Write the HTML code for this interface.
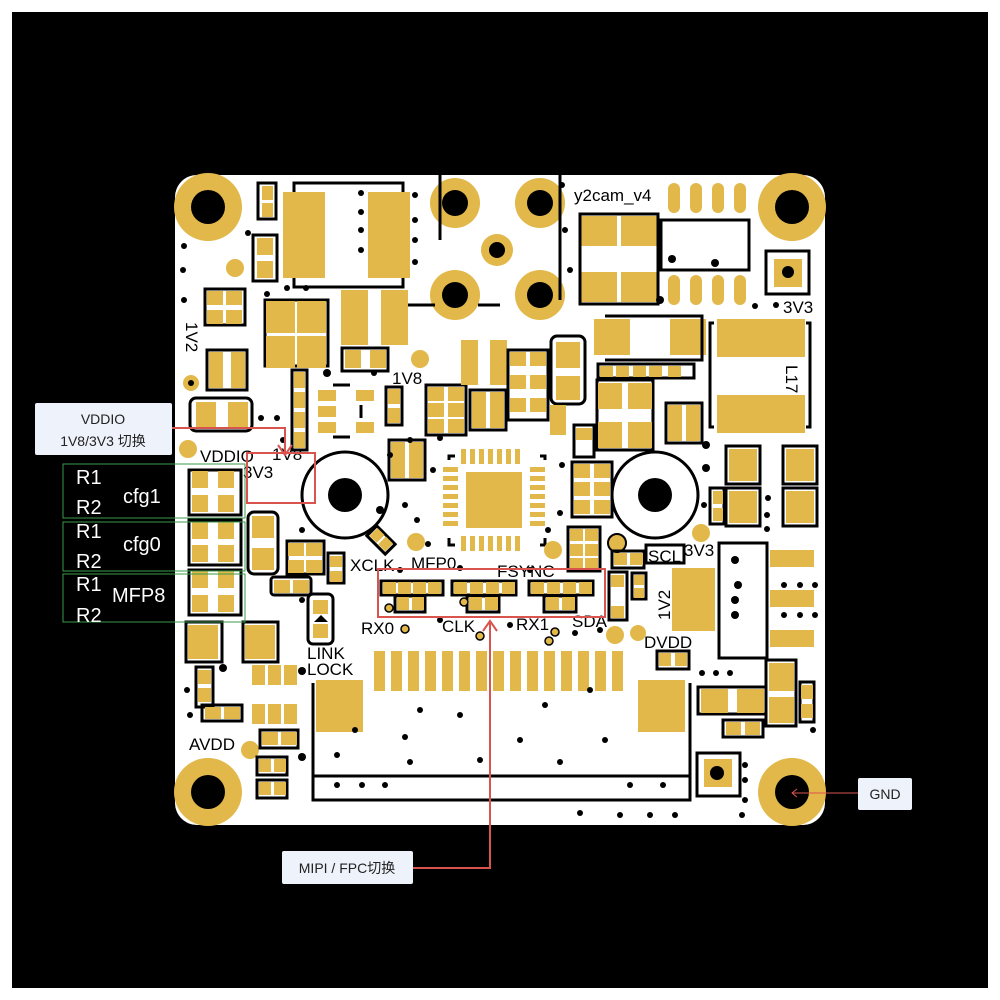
<!DOCTYPE html>
<html><head><meta charset="utf-8"><style>
html,body{margin:0;padding:0;background:#fff}
svg{display:block}
.p{fill:#E2B84A}
.o{fill:none;stroke:#000;stroke-width:3}
.t{font-family:"Liberation Sans",sans-serif;font-size:17px;fill:#000}
.lb{font-family:"Liberation Sans","Noto Sans CJK SC",sans-serif;font-size:14px;fill:#222}
.w{font-family:"Liberation Sans",sans-serif;font-size:20px;fill:#fff}
</style></head><body>
<svg width="1000" height="1000" viewBox="0 0 1000 1000" xmlns="http://www.w3.org/2000/svg">
<rect x="0" y="0" width="1000" height="1000" fill="#fff"/>
<rect x="12" y="12" width="976" height="976" fill="#000"/>
<rect x="175" y="175" width="650" height="650" rx="22" fill="#fff"/>

<!-- mounting holes -->
<g>
<circle cx="208" cy="207" r="34" class="p"/><circle cx="208" cy="207" r="17" fill="#000"/>
<circle cx="792" cy="207" r="34" class="p"/><circle cx="792" cy="207" r="17" fill="#000"/>
<circle cx="208" cy="792" r="34" class="p"/><circle cx="208" cy="792" r="17" fill="#000"/>
<circle cx="792" cy="792" r="34" class="p"/><circle cx="792" cy="792" r="17" fill="#000"/>
</g>
<!-- connector holes -->
<circle cx="455" cy="203" r="25" class="p"/><circle cx="455" cy="203" r="13" fill="#000"/>
<circle cx="540" cy="203" r="25" class="p"/><circle cx="540" cy="203" r="13" fill="#000"/>
<circle cx="497" cy="250" r="16" class="p"/><circle cx="497" cy="250" r="8" fill="#000"/>
<circle cx="455" cy="295" r="25" class="p"/><circle cx="455" cy="295" r="13" fill="#000"/>
<circle cx="540" cy="295" r="25" class="p"/><circle cx="540" cy="295" r="13" fill="#000"/>
<path d="M440 175 V240 M560 175 V300 M478 305 H500 M400 305 H435" class="o"/>

<!-- big white circles -->
<circle cx="345" cy="495" r="43" fill="#fff" stroke="#000" stroke-width="3"/><circle cx="345" cy="495" r="17" fill="#000"/>
<circle cx="655" cy="495" r="43" fill="#fff" stroke="#000" stroke-width="3"/><circle cx="655" cy="495" r="17" fill="#000"/>

<!-- top left inductor -->
<rect x="294" y="183" width="109" height="104" class="o"/>
<rect x="283" y="192" width="42" height="86" class="p"/><rect x="368" y="192" width="42" height="86" class="p"/>
<!-- small left column -->
<rect x="258" y="183" width="18" height="36" class="o"/><rect x="262" y="186" width="11" height="14" class="p"/><rect x="262" y="203" width="11" height="14" class="p"/>
<rect x="253" y="235" width="24" height="46" class="o"/><rect x="257" y="238" width="16" height="17" class="p"/><rect x="257" y="261" width="16" height="17" class="p"/>
<circle cx="235" cy="268" r="9" class="p"/>
<rect x="205" y="289" width="40" height="36" class="o"/><rect x="207" y="291" width="16" height="14" class="p"/><rect x="226" y="291" width="16" height="14" class="p"/><rect x="207" y="310" width="16" height="14" class="p"/><rect x="226" y="310" width="16" height="14" class="p"/>
<rect x="265" y="300" width="63" height="66" class="o"/>
<rect x="266" y="301" width="29" height="32" class="p"/><rect x="297" y="301" width="29" height="32" class="p"/><rect x="266" y="336" width="29" height="32" class="p"/><rect x="297" y="336" width="29" height="32" class="p"/>
<rect x="341" y="290" width="27" height="55" class="p"/><rect x="381" y="290" width="27" height="55" class="p"/>
<rect x="342" y="348" width="46" height="23" class="o"/><rect x="345" y="350" width="16" height="18" class="p"/><rect x="370" y="350" width="16" height="18" class="p"/>
<circle cx="420" cy="359" r="9" class="p"/>
<rect x="207" y="350" width="40" height="40" class="o"/><rect x="209" y="352" width="14" height="36" class="p"/><rect x="231" y="352" width="14" height="36" class="p"/>
<circle cx="191" cy="383" r="8" class="p"/><circle cx="191" cy="383" r="3" fill="#000"/>
<rect x="190" y="398" width="62" height="33" rx="6" class="o"/><rect x="196" y="402" width="20" height="26" class="p"/><rect x="228" y="402" width="20" height="26" class="p"/>
<circle cx="188" cy="449" r="9" class="p"/>
<rect x="292" y="370" width="15" height="80" class="o"/><rect x="294" y="372" width="11" height="16" class="p"/><rect x="294" y="392" width="11" height="16" class="p"/><rect x="294" y="412" width="11" height="16" class="p"/><rect x="294" y="432" width="11" height="16" class="p"/>
<rect x="318" y="390" width="18" height="11" class="p"/><rect x="318" y="406" width="18" height="11" class="p"/><rect x="318" y="422" width="18" height="11" class="p"/>
<rect x="356" y="390" width="18" height="11" class="p"/><rect x="356" y="422" width="18" height="11" class="p"/>
<path d="M333 385 H350 M333 437 H350 M361 405 V418" class="o"/>
<rect x="386" y="387" width="16" height="38" class="o"/><rect x="388" y="389" width="12" height="15" class="p"/><rect x="388" y="408" width="12" height="15" class="p"/>
<rect x="389" y="440" width="36" height="40" class="o"/><rect x="391" y="442" width="14" height="36" class="p"/><rect x="409" y="442" width="14" height="36" class="p"/>
<rect x="426" y="385" width="40" height="50" class="o"/><rect x="428" y="387" width="16" height="14" class="p"/><rect x="448" y="387" width="16" height="14" class="p"/><rect x="428" y="403" width="16" height="14" class="p"/><rect x="448" y="403" width="16" height="14" class="p"/><rect x="428" y="419" width="16" height="14" class="p"/><rect x="448" y="419" width="16" height="14" class="p"/>
<rect x="461" y="340" width="17" height="45" class="p"/><rect x="490" y="340" width="17" height="45" class="p"/>
<rect x="470" y="390" width="36" height="40" class="o"/><rect x="472" y="392" width="14" height="36" class="p"/><rect x="490" y="392" width="14" height="36" class="p"/>
<rect x="508" y="350" width="40" height="70" class="o"/><rect x="510" y="352" width="16" height="14" class="p"/><rect x="530" y="352" width="16" height="14" class="p"/><rect x="510" y="375" width="16" height="14" class="p"/><rect x="530" y="375" width="16" height="14" class="p"/><rect x="510" y="398" width="16" height="14" class="p"/><rect x="530" y="398" width="16" height="14" class="p"/>
<rect x="551" y="336" width="34" height="68" rx="6" class="o"/><rect x="556" y="342" width="24" height="26" class="p"/><rect x="556" y="376" width="24" height="24" class="p"/>
<rect x="550" y="405" width="16" height="30" class="p"/>

<!-- top right -->
<rect x="581" y="216" width="36" height="30" class="p"/><rect x="621" y="216" width="36" height="30" class="p"/>
<rect x="581" y="272" width="36" height="30" class="p"/><rect x="621" y="272" width="36" height="30" class="p"/>
<rect x="580" y="214" width="78" height="90" class="o"/>
<g class="p"><rect x="668" y="183" width="12" height="30" rx="6"/><rect x="690" y="183" width="12" height="30" rx="6"/><rect x="712" y="183" width="12" height="30" rx="6"/><rect x="734" y="183" width="12" height="30" rx="6"/>
<rect x="668" y="275" width="12" height="30" rx="6"/><rect x="690" y="275" width="12" height="30" rx="6"/><rect x="712" y="275" width="12" height="30" rx="6"/><rect x="734" y="275" width="12" height="30" rx="6"/></g>
<rect x="661" y="220" width="88" height="50" class="o"/>
<rect x="766" y="251" width="43" height="43" class="o"/><rect x="774" y="259" width="28" height="28" class="p"/><circle cx="788" cy="272" r="6" fill="#000"/>
<rect x="594" y="319" width="36" height="36" class="p"/><rect x="670" y="319" width="36" height="36" class="p"/>
<path d="M605 316 H702 V360 H605" class="o"/>
<rect x="598" y="364" width="96" height="14" class="o"/>
<rect x="600" y="366" width="13" height="11" class="p"/><rect x="616" y="366" width="13" height="11" class="p"/><rect x="633" y="366" width="13" height="11" class="p"/><rect x="649" y="366" width="13" height="11" class="p"/><rect x="668" y="366" width="13" height="11" class="p"/>
<rect x="597" y="380" width="56" height="70" class="o"/><rect x="598" y="383" width="24" height="26" class="p"/><rect x="628" y="383" width="24" height="26" class="p"/><rect x="598" y="422" width="24" height="26" class="p"/><rect x="628" y="422" width="24" height="26" class="p"/>
<rect x="666" y="403" width="36" height="40" class="o"/><rect x="668" y="405" width="14" height="36" class="p"/><rect x="686" y="405" width="14" height="36" class="p"/>
<path d="M714 323 H710 V427 H714 M806 323 H810 V427 H806" class="o"/>
<rect x="717" y="319" width="88" height="38" class="p"/><rect x="717" y="395" width="88" height="38" class="p"/>
<rect x="574" y="425" width="20" height="32" class="o"/><rect x="576" y="428" width="16" height="12" class="p"/>
<rect x="572" y="462" width="40" height="55" class="o"/><rect x="574" y="464" width="16" height="14" class="p"/><rect x="594" y="464" width="16" height="14" class="p"/><rect x="574" y="482" width="16" height="14" class="p"/><rect x="594" y="482" width="16" height="14" class="p"/><rect x="574" y="500" width="16" height="14" class="p"/><rect x="594" y="500" width="16" height="14" class="p"/>
<rect x="726" y="446" width="34" height="38" class="o"/><rect x="729" y="449" width="28" height="32" class="p"/>
<rect x="783" y="446" width="34" height="38" class="o"/><rect x="786" y="449" width="28" height="32" class="p"/>
<rect x="726" y="488" width="34" height="38" class="o"/><rect x="729" y="491" width="28" height="32" class="p"/>
<rect x="783" y="488" width="34" height="38" class="o"/><rect x="786" y="491" width="28" height="32" class="p"/>
<rect x="710" y="488" width="14" height="36" class="o"/><rect x="713" y="491" width="10" height="13" class="p"/><rect x="713" y="508" width="10" height="13" class="p"/>
<circle cx="701" cy="533" r="9" class="p"/>
<rect x="719" y="543" width="48" height="115" class="o"/>
<rect x="770" y="550" width="44" height="17" class="p"/><rect x="770" y="590" width="44" height="17" class="p"/><rect x="770" y="630" width="44" height="17" class="p"/>

<!-- QFN -->
<rect x="466" y="472" width="56" height="56" class="p"/>
<g class="p">
<rect x="443" y="467" width="15" height="5"/><rect x="443" y="476" width="15" height="5"/><rect x="443" y="485" width="15" height="5"/><rect x="443" y="494" width="15" height="5"/><rect x="443" y="503" width="15" height="5"/><rect x="443" y="512" width="15" height="5"/><rect x="443" y="521" width="15" height="5"/>
<rect x="530" y="467" width="15" height="5"/><rect x="530" y="476" width="15" height="5"/><rect x="530" y="485" width="15" height="5"/><rect x="530" y="494" width="15" height="5"/><rect x="530" y="503" width="15" height="5"/><rect x="530" y="512" width="15" height="5"/><rect x="530" y="521" width="15" height="5"/>
<rect x="461" y="449" width="5" height="15"/><rect x="470" y="449" width="5" height="15"/><rect x="479" y="449" width="5" height="15"/><rect x="488" y="449" width="5" height="15"/><rect x="497" y="449" width="5" height="15"/><rect x="506" y="449" width="5" height="15"/><rect x="515" y="449" width="5" height="15"/>
<rect x="461" y="536" width="5" height="15"/><rect x="470" y="536" width="5" height="15"/><rect x="479" y="536" width="5" height="15"/><rect x="488" y="536" width="5" height="15"/><rect x="497" y="536" width="5" height="15"/><rect x="506" y="536" width="5" height="15"/><rect x="515" y="536" width="5" height="15"/>
</g>
<path d="M449 460 V456 H455 M540 456 H545 V460 M449 538 V545 H455 M540 545 H545 V538" class="o"/>
<circle cx="553" cy="550" r="9" class="p"/>
<rect x="568" y="527" width="32" height="44" class="o"/><rect x="570" y="529" width="13" height="12" class="p"/><rect x="585" y="529" width="13" height="12" class="p"/><rect x="570" y="544" width="13" height="12" class="p"/><rect x="585" y="544" width="13" height="12" class="p"/><rect x="570" y="558" width="13" height="11" class="p"/><rect x="585" y="558" width="13" height="11" class="p"/>
<circle cx="617" cy="543" r="9" class="p" stroke="#000" stroke-width="2"/>
<rect x="612" y="551" width="32" height="17" class="o"/><rect x="614" y="553" width="13" height="12" class="p"/><rect x="630" y="553" width="13" height="12" class="p"/>
<rect x="609" y="572" width="18" height="48" class="o"/><rect x="611" y="575" width="13" height="12" class="p"/><rect x="611" y="606" width="13" height="12" class="p"/>
<rect x="632" y="573" width="14" height="26" class="o"/><rect x="634" y="575" width="10" height="10" class="p"/><rect x="634" y="588" width="10" height="10" class="p"/>
<rect x="672" y="568" width="43" height="63" class="p"/>
<rect x="646" y="545" width="38" height="18" class="o"/>
<circle cx="615" cy="635" r="9" class="p"/><circle cx="638" cy="633" r="8" class="p"/>
<rect x="657" y="651" width="32" height="18" class="o"/><rect x="659" y="653" width="12" height="13" class="p"/><rect x="675" y="653" width="12" height="13" class="p"/>

<!-- left lower -->
<rect x="189" y="470" width="52" height="45" class="o"/><rect x="192" y="471" width="16" height="17" class="p"/><rect x="218" y="471" width="16" height="17" class="p"/><rect x="192" y="495" width="16" height="17" class="p"/><rect x="218" y="495" width="16" height="17" class="p"/>
<rect x="189" y="520" width="52" height="45" class="o"/><rect x="192" y="522" width="16" height="17" class="p"/><rect x="218" y="522" width="16" height="17" class="p"/><rect x="192" y="545" width="16" height="17" class="p"/><rect x="218" y="545" width="16" height="17" class="p"/>
<rect x="189" y="570" width="52" height="45" class="o"/><rect x="192" y="571" width="16" height="17" class="p"/><rect x="218" y="571" width="16" height="17" class="p"/><rect x="192" y="595" width="16" height="17" class="p"/><rect x="218" y="595" width="16" height="17" class="p"/>
<rect x="248" y="512" width="30" height="62" rx="6" class="o"/><rect x="252" y="516" width="22" height="22" class="p"/><rect x="252" y="548" width="22" height="22" class="p"/>
<rect x="287" y="541" width="37" height="33" class="o"/><rect x="288" y="543" width="16" height="13" class="p"/><rect x="306" y="543" width="16" height="13" class="p"/><rect x="288" y="560" width="16" height="13" class="p"/><rect x="306" y="560" width="16" height="13" class="p"/>
<rect x="271" y="577" width="40" height="18" rx="3" class="o"/><rect x="274" y="580" width="16" height="13" class="p"/><rect x="293" y="580" width="16" height="13" class="p"/>
<rect x="328" y="553" width="16" height="30" class="o"/><rect x="330" y="556" width="12" height="11" class="p"/><rect x="330" y="571" width="12" height="11" class="p"/>
<rect x="308" y="594" width="25" height="50" rx="5" class="o"/><rect x="313" y="600" width="15" height="14" class="p"/><rect x="313" y="624" width="15" height="14" class="p"/><path d="M314 622 L321 615 L328 622 Z" fill="#000"/>
<g transform="rotate(45 381 540)"><rect x="368" y="533" width="26" height="14" class="o"/><rect x="370" y="534" width="10" height="11" class="p"/><rect x="382" y="534" width="10" height="11" class="p"/></g>
<circle cx="416" cy="542" r="9" class="p"/>
<rect x="188" y="625" width="30" height="34" class="p"/><rect x="245" y="625" width="30" height="34" class="p"/>
<rect x="186" y="622" width="36" height="40" class="o"/><rect x="243" y="622" width="35" height="40" class="o"/>
<rect x="252" y="665" width="13" height="20" class="p"/><rect x="268" y="665" width="13" height="20" class="p"/><rect x="284" y="665" width="13" height="20" class="p"/>
<rect x="252" y="704" width="13" height="20" class="p"/><rect x="268" y="704" width="13" height="20" class="p"/><rect x="284" y="704" width="13" height="20" class="p"/>
<rect x="196" y="667" width="17" height="40" class="o"/><rect x="198" y="670" width="13" height="14" class="p"/><rect x="198" y="688" width="13" height="14" class="p"/>
<rect x="202" y="705" width="40" height="16" class="o"/><rect x="205" y="707" width="16" height="12" class="p"/><rect x="224" y="707" width="16" height="12" class="p"/>
<circle cx="250" cy="750" r="9" class="p"/>
<rect x="260" y="730" width="38" height="18" class="o"/><rect x="262" y="732" width="16" height="13" class="p"/><rect x="281" y="732" width="16" height="13" class="p"/>
<rect x="257" y="757" width="30" height="18" class="o"/><rect x="259" y="759" width="12" height="13" class="p"/><rect x="274" y="759" width="12" height="13" class="p"/>
<rect x="257" y="780" width="30" height="18" class="o"/><rect x="259" y="782" width="12" height="13" class="p"/><rect x="274" y="782" width="12" height="13" class="p"/>

<!-- MFP switch row -->
<g>
<rect x="381" y="581" width="62" height="14" class="o"/><rect x="383" y="582" width="13" height="12" class="p"/><rect x="398" y="582" width="13" height="12" class="p"/><rect x="413" y="582" width="13" height="12" class="p"/><rect x="428" y="582" width="13" height="12" class="p"/>
<rect x="395" y="596" width="30" height="16" class="o"/><rect x="397" y="597" width="12" height="13" class="p"/><rect x="412" y="597" width="12" height="13" class="p"/>
<rect x="452" y="581" width="64" height="14" class="o"/><rect x="454" y="582" width="13" height="12" class="p"/><rect x="470" y="582" width="13" height="12" class="p"/><rect x="486" y="582" width="13" height="12" class="p"/><rect x="502" y="582" width="13" height="12" class="p"/>
<rect x="467" y="596" width="32" height="16" class="o"/><rect x="469" y="597" width="13" height="13" class="p"/><rect x="485" y="597" width="13" height="13" class="p"/>
<rect x="529" y="581" width="64" height="14" class="o"/><rect x="531" y="582" width="13" height="12" class="p"/><rect x="547" y="582" width="13" height="12" class="p"/><rect x="563" y="582" width="13" height="12" class="p"/><rect x="579" y="582" width="13" height="12" class="p"/>
<rect x="544" y="596" width="32" height="16" class="o"/><rect x="546" y="597" width="13" height="13" class="p"/><rect x="562" y="597" width="13" height="13" class="p"/>
<circle cx="389" cy="608" r="4" class="p" stroke="#000" stroke-width="1.5"/><circle cx="464" cy="602" r="4" class="p" stroke="#000" stroke-width="1.5"/>
<circle cx="405" cy="629" r="4" class="p" stroke="#000" stroke-width="1.5"/><circle cx="480" cy="636" r="4" class="p" stroke="#000" stroke-width="1.5"/>
<circle cx="555" cy="632" r="4" class="p" stroke="#000" stroke-width="1.5"/><circle cx="549" cy="641" r="4" class="p" stroke="#000" stroke-width="1.5"/>
</g>

<!-- FPC -->
<g class="p">
<rect x="374" y="651" width="11" height="40"/><rect x="391" y="651" width="11" height="40"/><rect x="408" y="651" width="11" height="40"/><rect x="425" y="651" width="11" height="40"/><rect x="442" y="651" width="11" height="40"/><rect x="459" y="651" width="11" height="40"/><rect x="476" y="651" width="11" height="40"/><rect x="493" y="651" width="11" height="40"/><rect x="510" y="651" width="11" height="40"/><rect x="527" y="651" width="11" height="40"/><rect x="544" y="651" width="11" height="40"/><rect x="561" y="651" width="11" height="40"/><rect x="578" y="651" width="11" height="40"/><rect x="595" y="651" width="11" height="40"/><rect x="612" y="651" width="11" height="40"/>
<rect x="316" y="680" width="47" height="52"/><rect x="638" y="680" width="47" height="52"/>
</g>
<path d="M313 683 V800 H690 V683 M313 776 H690" class="o"/>
<rect x="697" y="753" width="43" height="43" class="o"/><rect x="704" y="759" width="28" height="28" class="p"/><circle cx="717" cy="773" r="7" fill="#000"/>
<rect x="698" y="687" width="68" height="27" class="o"/><rect x="701" y="689" width="27" height="24" class="p"/><rect x="737" y="689" width="27" height="24" class="p"/>
<rect x="723" y="720" width="40" height="17" class="o"/><rect x="726" y="722" width="15" height="13" class="p"/><rect x="745" y="722" width="15" height="13" class="p"/>
<rect x="766" y="660" width="30" height="66" class="o"/><rect x="769" y="663" width="25" height="28" class="p"/><rect x="769" y="697" width="25" height="26" class="p"/>
<rect x="800" y="682" width="14" height="40" class="o"/><rect x="801" y="685" width="12" height="14" class="p"/><rect x="801" y="704" width="12" height="14" class="p"/>

<!-- vias -->
<g fill="#000">
<circle cx="184" cy="246" r="3"/><circle cx="183" cy="270" r="3"/><circle cx="184" cy="300" r="3"/><circle cx="248" cy="233" r="3"/><circle cx="267" cy="294" r="3"/><circle cx="287" cy="288" r="3"/><circle cx="306" cy="288" r="3"/><circle cx="327" cy="373" r="4"/><circle cx="374" cy="373" r="3"/><circle cx="261" cy="418" r="3"/><circle cx="277" cy="418" r="3"/><circle cx="283" cy="440" r="3"/>
<circle cx="361" cy="193" r="3"/><circle cx="361" cy="212" r="3"/><circle cx="361" cy="230" r="3"/><circle cx="361" cy="250" r="3"/><circle cx="415" cy="195" r="3"/><circle cx="415" cy="220" r="3"/><circle cx="415" cy="240" r="3"/><circle cx="415" cy="262" r="3"/>
<circle cx="390" cy="455" r="3"/><circle cx="410" cy="440" r="3"/><circle cx="440" cy="438" r="3"/><circle cx="433" cy="470" r="3"/><circle cx="405" cy="505" r="3"/><circle cx="417" cy="520" r="3"/><circle cx="428" cy="544" r="3"/><circle cx="562" cy="465" r="3"/><circle cx="560" cy="513" r="3"/><circle cx="548" cy="530" r="3"/>
<circle cx="562" cy="185" r="3"/><circle cx="565" cy="230" r="3"/><circle cx="570" cy="270" r="3"/><circle cx="660" cy="300" r="4"/><circle cx="672" cy="259" r="4"/><circle cx="715" cy="263" r="4"/><circle cx="755" cy="306" r="3"/><circle cx="776" cy="305" r="3"/>
<circle cx="706" cy="445" r="4"/><circle cx="706" cy="468" r="4"/><circle cx="704" cy="505" r="3"/><circle cx="768" cy="498" r="3"/><circle cx="767" cy="515" r="3"/><circle cx="767" cy="529" r="3"/><circle cx="738" cy="585" r="4"/><circle cx="735" cy="600" r="4"/><circle cx="735" cy="615" r="4"/><circle cx="735" cy="560" r="4"/>
<circle cx="784" cy="585" r="3"/><circle cx="800" cy="585" r="3"/><circle cx="815" cy="585" r="3"/><circle cx="784" cy="615" r="3"/><circle cx="800" cy="615" r="3"/><circle cx="815" cy="615" r="3"/>
<circle cx="702" cy="673" r="3"/><circle cx="716" cy="673" r="3"/><circle cx="730" cy="673" r="3"/><circle cx="813" cy="730" r="3"/><circle cx="745" cy="765" r="3"/><circle cx="745" cy="780" r="3"/><circle cx="745" cy="800" r="3"/>
<circle cx="380" cy="510" r="4"/><circle cx="302" cy="530" r="3"/><circle cx="302" cy="600" r="3"/><circle cx="223" cy="668" r="4"/><circle cx="302" cy="671" r="4"/><circle cx="302" cy="757" r="4"/><circle cx="187" cy="690" r="3"/><circle cx="190" cy="715" r="3"/>
<circle cx="355" cy="730" r="3"/><circle cx="337" cy="755" r="3"/><circle cx="405" cy="737" r="3"/><circle cx="420" cy="710" r="3"/><circle cx="460" cy="715" r="3"/><circle cx="520" cy="740" r="3"/><circle cx="590" cy="690" r="3"/><circle cx="605" cy="740" r="3"/><circle cx="560" cy="762" r="3"/><circle cx="545" cy="705" r="3"/><circle cx="480" cy="760" r="3"/><circle cx="410" cy="762" r="3"/>
<circle cx="337" cy="785" r="3"/><circle cx="362" cy="785" r="3"/><circle cx="385" cy="785" r="3"/><circle cx="630" cy="785" r="3"/><circle cx="663" cy="785" r="3"/><circle cx="580" cy="813" r="3"/><circle cx="620" cy="815" r="3"/><circle cx="650" cy="815" r="3"/><circle cx="675" cy="815" r="3"/><circle cx="742" cy="815" r="3"/>
<circle cx="440" cy="620" r="3"/><circle cx="510" cy="625" r="3"/><circle cx="575" cy="633" r="3"/><circle cx="600" cy="630" r="3"/><circle cx="530" cy="570" r="3"/><circle cx="460" cy="568" r="3"/><circle cx="400" cy="570" r="3"/>
</g>

<!-- board labels -->
<text class="t" x="574" y="201" font-size="16">y2cam_v4</text>
<text class="t" x="783" y="313">3V3</text>
<text class="t" x="0" y="0" transform="translate(786 365) rotate(90)">L17</text>
<text class="t" x="0" y="0" transform="translate(186 322) rotate(90)">1V2</text>
<text class="t" x="392" y="384" font-size="20">1V8</text>
<text class="t" x="200" y="462">VDDIO</text>
<text class="t" x="272" y="460" font-size="15">1V8</text>
<text class="t" x="243" y="478" font-size="15">3V3</text>
<text class="t" x="350" y="571">XCLK</text>
<text class="t" x="411" y="569">MFP0</text>
<text class="t" x="497" y="577">FSYNC</text>
<text class="t" x="648" y="562">SCL</text>
<text class="t" x="684" y="556">3V3</text>
<text class="t" x="0" y="0" transform="translate(670 620) rotate(-90)">1V2</text>
<text class="t" x="361" y="634">RX0</text>
<text class="t" x="442" y="632">CLK</text>
<text class="t" x="516" y="630">RX1</text>
<text class="t" x="572" y="627">SDA</text>
<text class="t" x="644" y="648">DVDD</text>
<text class="t" x="307" y="659">LINK</text>
<text class="t" x="307" y="675">LOCK</text>
<text class="t" x="189" y="750">AVDD</text>

<!-- annotations -->
<rect x="247" y="453" width="68" height="50" fill="none" stroke="#d9534f" stroke-width="2"/>
<path d="M172 428 H285 V455" fill="none" stroke="#d9534f" stroke-width="2"/>
<path d="M278 445 L285 455 L292 445" fill="none" stroke="#d9534f" stroke-width="2"/>
<rect x="35" y="403" width="137" height="52" rx="2" fill="#eef2fa"/>
<text class="lb" x="103" y="424" text-anchor="middle">VDDIO</text>
<text class="lb" x="103" y="446" text-anchor="middle">1V8/3V3 切换</text>

<rect x="63" y="464" width="182" height="54" fill="none" stroke="#3a9a4a" stroke-width="1"/>
<rect x="63" y="522" width="182" height="49" fill="none" stroke="#3a9a4a" stroke-width="1"/>
<rect x="63" y="574" width="182" height="48" fill="none" stroke="#3a9a4a" stroke-width="1"/>
<text class="w" x="76" y="484">R1</text><text class="w" x="76" y="514">R2</text><text class="w" x="123" y="503">cfg1</text>
<text class="w" x="76" y="538">R1</text><text class="w" x="76" y="568">R2</text><text class="w" x="123" y="551">cfg0</text>
<text class="w" x="76" y="591">R1</text><text class="w" x="76" y="622">R2</text><text class="w" x="112" y="602">MFP8</text>

<rect x="378" y="569" width="227" height="48" fill="none" stroke="#d9534f" stroke-width="2"/>
<path d="M413 868 H490 V621" fill="none" stroke="#d9534f" stroke-width="2"/>
<path d="M483 631 L490 621 L497 631" fill="none" stroke="#d9534f" stroke-width="2"/>
<rect x="282" y="851" width="131" height="33" rx="2" fill="#eef2fa"/>
<text class="lb" x="347" y="873" text-anchor="middle">MIPI / FPC切换</text>

<path d="M858 793 H792" fill="none" stroke="#d9534f" stroke-width="1"/>
<path d="M797 789 L792 793 L797 797" fill="none" stroke="#d9534f" stroke-width="1"/>
<rect x="858" y="778" width="54" height="32" rx="2" fill="#eef2fa"/>
<text class="lb" x="885" y="799" text-anchor="middle">GND</text>
</svg>
</body></html>
